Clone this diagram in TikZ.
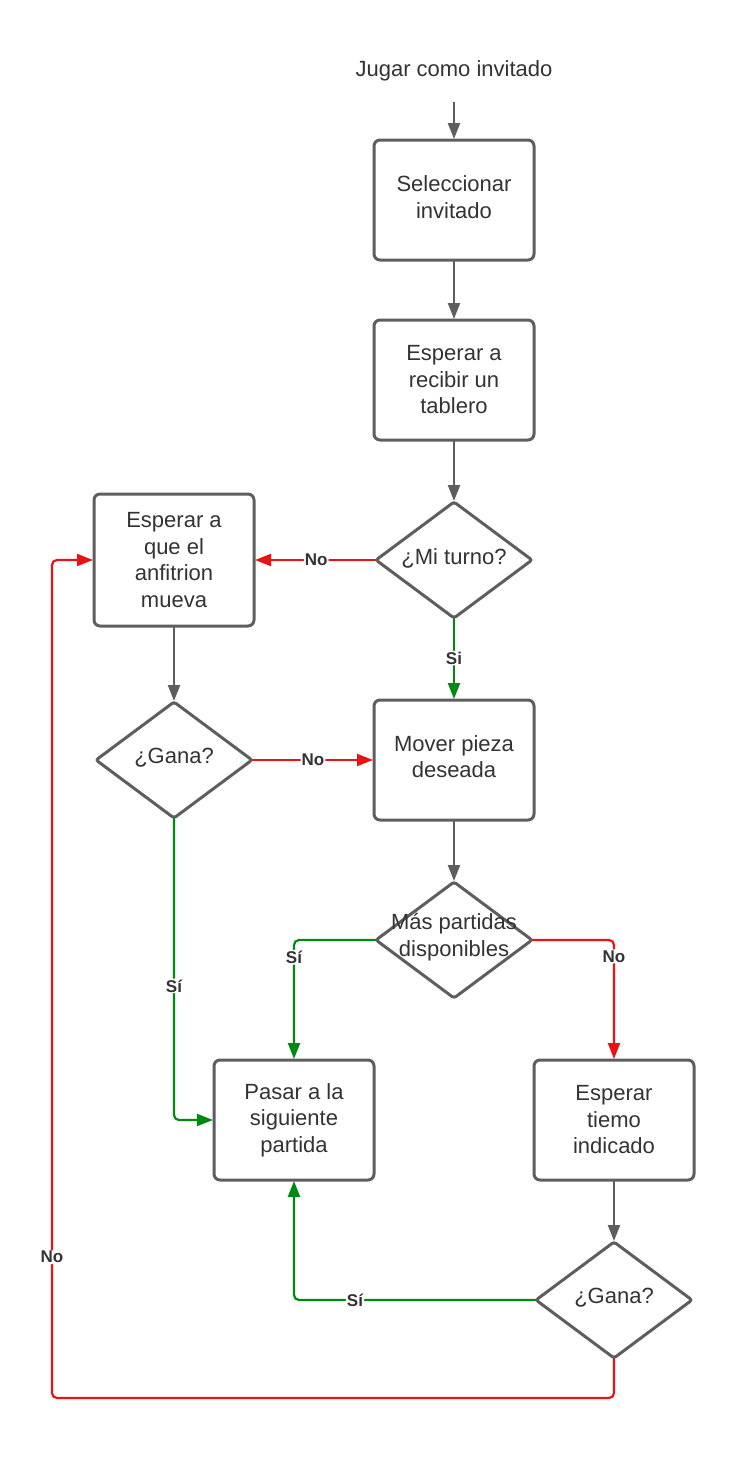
\documentclass[tikz,border=0pt]{standalone}
\usepackage{fontspec}
\setmainfont{Liberation Sans}
\usetikzlibrary{arrows.meta,shapes.geometric}
\definecolor{gline}{HTML}{5E5E5E}
\definecolor{txt}{HTML}{333333}
\definecolor{rline}{HTML}{E81414}
\definecolor{vline}{HTML}{008A10}
\tikzset{
  box/.style={draw=gline, line width=3pt, rounded corners=6pt, minimum width=160pt, minimum height=120pt, inner sep=0pt, outer sep=0pt, align=center, text=txt, font=\fontsize{22}{26.5}\selectfont},
  decis/.style={draw=gline, line width=3pt, shape=diamond, rounded corners=2.5pt, minimum width=156pt, minimum height=116pt, inner sep=0pt, outer sep=0pt},
  dtext/.style={align=center, text=txt, font=\fontsize{22}{26.5}\selectfont, inner sep=0pt},
  conn/.style={line width=2.2pt, rounded corners=5pt, -{Triangle[length=16pt,width=12pt]}, shorten >=1pt},
  grayc/.style={conn, draw=gline, color=gline},
  redc/.style={conn, draw=rline, color=rline},
  greenc/.style={conn, draw=vline, color=vline},
  lbl/.style={fill=white, text=txt, inner sep=1pt, font=\fontsize{17}{19}\selectfont\bfseries},
}
\begin{document}
\begin{tikzpicture}[x=1pt,y=-1pt]
\useasboundingbox[fill=white] (0,0) rectangle (744,1462);
\node[dtext] (t) at (454,71) {Jugar como invitado};
\coordinate (ts) at (454,102);
\node[box, text depth=6pt] (b1) at (454,200) {Seleccionar\\invitado};
\node[box] (b2) at (454,380) {Esperar a\\recibir un\\tablero};
\node[decis] (d1) at (454,560) {};
\node[dtext] (d1t) at (454,558) {¿Mi turno?};
\node[box, minimum height=132pt] (b3) at (174,560) {Esperar a\\que el\\anfitrion\\mueva};
\node[box, text depth=7pt] (b4) at (454,760) {Mover pieza\\deseada};
\node[decis] (d2) at (174,760) {};
\node[dtext] (d2t) at (174,758) {¿Gana?};
\node[decis] (d3) at (454,940) {};
\node[dtext] (d3t) at (454,937) {Más partidas\\disponibles};
\node[box] (b5) at (294,1120) {Pasar a la\\siguiente\\partida};
\node[box] (b6) at (614,1120) {Esperar\\tiemo\\indicado};
\node[decis] (d4) at (614,1300) {};
\node[dtext] (d4t) at (614,1298) {¿Gana?};
\coordinate (cA) at (52,1398);

\draw[grayc] (ts) -- (b1.north);
\draw[grayc] (b1.south) -- (b2.north);
\draw[grayc] (b2.south) -- (d1.north);
\draw[redc] (d1.west) -- node[lbl, pos=0.49] {No} (b3.east);
\draw[greenc] (d1.south) -- node[lbl, pos=0.49] {Si} (b4.north);
\draw[grayc] (b3.south) -- (d2.north);
\draw[redc] (d2.east) -- node[lbl] {No} (b4.west);
\draw[greenc] (d2.south) |- node[lbl, pos=0.278] {Sí} (b5.west);
\draw[grayc] (b4.south) -- (d3.north);
\draw[greenc] (d3.west) -| node[lbl, pos=0.572] {Sí} (b5.north);
\draw[redc] (d3.east) -| node[lbl, pos=0.568] {No} (b6.north);
\draw[grayc] (b6.south) -- (d4.north);
\draw[greenc] (d4.west) -| node[lbl, pos=0.374] {Sí} (b5.south);
\draw[redc] (d4.south) |- (cA) |- node[lbl, pos=0.084] {No} (b3.west);
\end{tikzpicture}
\end{document}
